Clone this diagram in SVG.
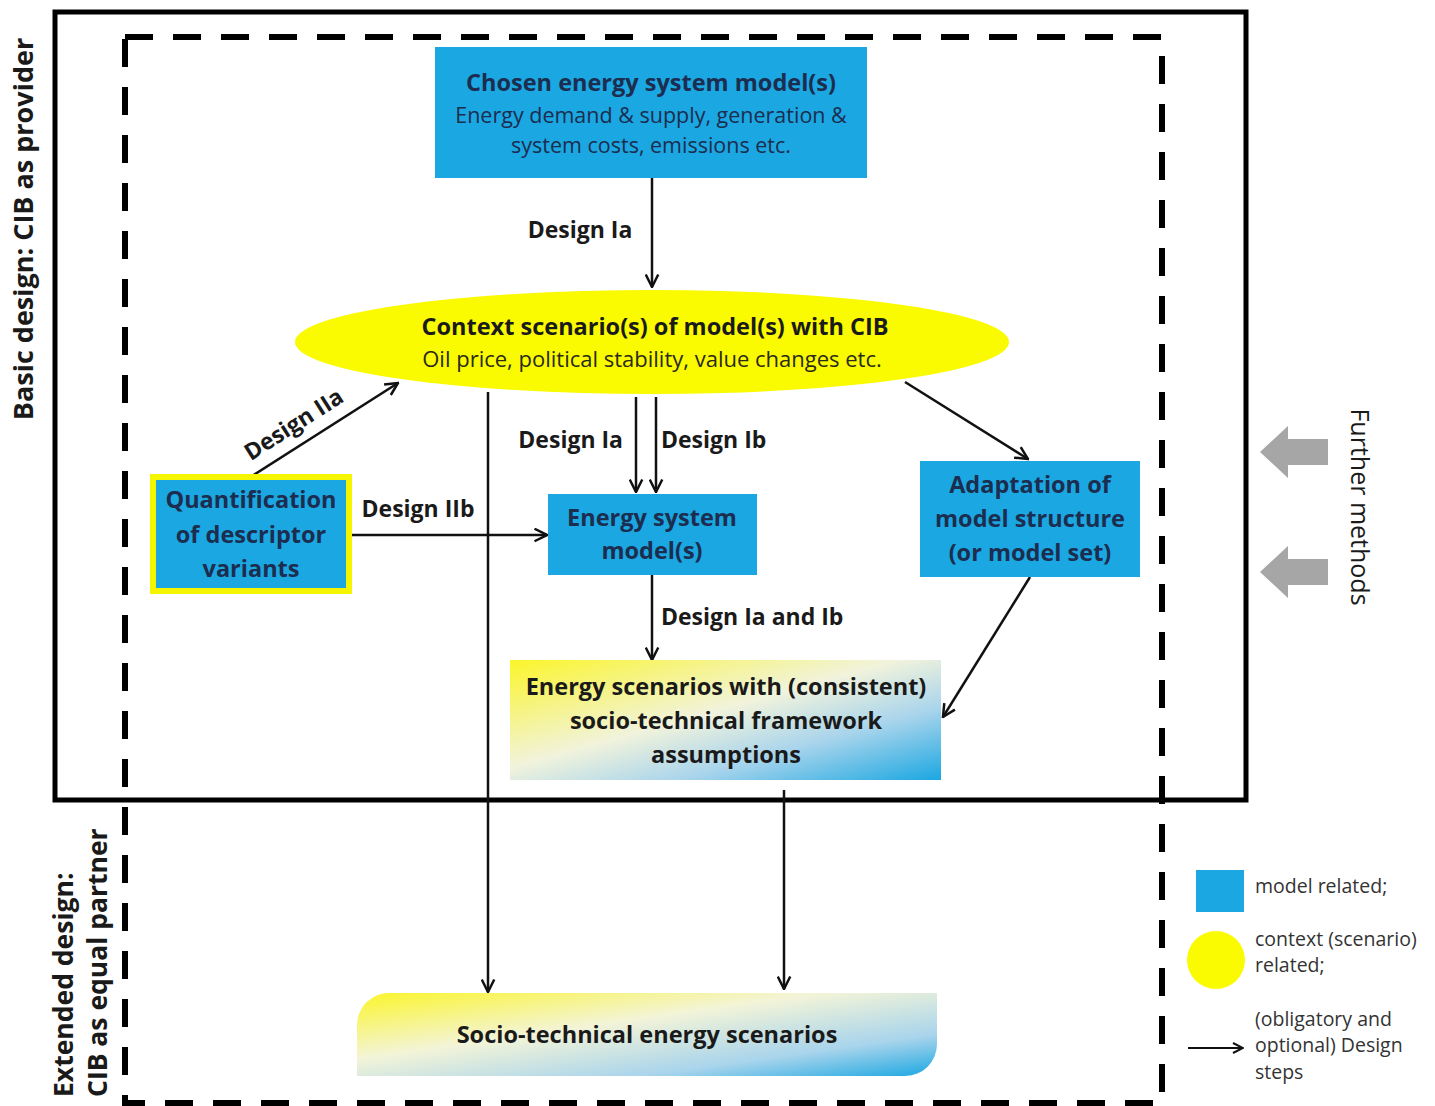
<svg xmlns="http://www.w3.org/2000/svg" width="1435" height="1106" viewBox="0 0 1435 1106">
<style>
text{font-family:"Open Sans","Liberation Sans",sans-serif;}
.b{font-weight:bold;}
.navy{fill:#1c2d4f;}
.dark{fill:#1a1a1a;}
.t{font-weight:bold;font-size:23.5px;text-anchor:middle;}
.lbl{font-weight:bold;font-size:23px;fill:#1a1a1a;}
.blue{fill:#1ba7e1;}
.conn{stroke:#111;stroke-width:2.5;fill:none;marker-end:url(#ah);}
.leg{font-size:19.5px;fill:#333;}
</style>
<defs>
<marker id="ah" viewBox="0 0 12 12" refX="11" refY="6" markerWidth="6" markerHeight="6" markerUnits="strokeWidth" orient="auto">
<path d="M1,1 L11,6 L1,11" fill="none" stroke="#111" stroke-width="2"/>
</marker>
<linearGradient id="g1" x1="0" y1="0" x2="1" y2="1">
<stop offset="0" stop-color="#fbf52a"/>
<stop offset="0.45" stop-color="#f1f3dc"/>
<stop offset="0.7" stop-color="#a8d4ec"/>
<stop offset="1" stop-color="#1ba7e1"/>
</linearGradient>
<linearGradient id="g2" x1="0" y1="0" x2="1" y2="1">
<stop offset="0" stop-color="#fbf52a"/>
<stop offset="0.4" stop-color="#f3f4d8"/>
<stop offset="0.75" stop-color="#a8d4ec"/>
<stop offset="1" stop-color="#1ba7e1"/>
</linearGradient>
</defs>
<rect width="1435" height="1106" fill="#fff"/>

<g id="frames">
<rect x="55" y="12" width="1191" height="788" fill="none" stroke="#000" stroke-width="5"/>
<rect x="125" y="37" width="1037" height="1066" fill="none" stroke="#000" stroke-width="6" stroke-dasharray="28 20"/>
</g>

<g id="side-labels">
<text class="b" font-size="27" fill="#1a1a1a" text-anchor="middle" transform="translate(33,229) rotate(-90)">Basic design: CIB as provider</text>
<text class="b" font-size="26.5" fill="#1a1a1a" transform="translate(73,1097) rotate(-90)">Extended design:</text>
<text class="b" font-size="26.5" fill="#1a1a1a" transform="translate(107,1097) rotate(-90)">CIB as equal partner</text>
<text font-size="25" fill="#1a1a1a" text-anchor="middle" transform="translate(1351,507) rotate(90)">Further methods</text>
</g>

<g id="further-arrows" fill="#a6a6a6">
<path d="M1260,452 L1288,426 L1288,439 L1328,439 L1328,465 L1288,465 L1288,478 Z"/>
<path d="M1260,572 L1288,546 L1288,559 L1328,559 L1328,585 L1288,585 L1288,598 Z"/>
</g>

<g id="connectors">
<line class="conn" x1="652" y1="178" x2="652" y2="287"/>
<line class="conn" x1="252" y1="476" x2="398" y2="383"/>
<line class="conn" x1="352" y1="535" x2="547" y2="535"/>
<line class="conn" x1="488" y1="392" x2="488" y2="992"/>
<line class="conn" x1="636" y1="397" x2="636" y2="492"/>
<line class="conn" x1="656" y1="397" x2="656" y2="492"/>
<line class="conn" x1="652" y1="575" x2="652" y2="660"/>
<line class="conn" x1="905" y1="382" x2="1028" y2="459"/>
<line class="conn" x1="1030" y1="577" x2="943" y2="717"/>
<line class="conn" x1="784" y1="790" x2="784" y2="989"/>
<text class="lbl" x="580" y="238" text-anchor="middle">Design Ia</text>
<text class="lbl" text-anchor="middle" transform="translate(298,431) rotate(-32.5)">Design IIa</text>
<text class="lbl" x="418" y="517" text-anchor="middle">Design IIb</text>
<text class="lbl" x="623" y="448" text-anchor="end">Design Ia</text>
<text class="lbl" x="661" y="448">Design Ib</text>
<text class="lbl" x="661" y="625">Design Ia and Ib</text>
</g>

<g id="chosen-model">
<rect class="blue" x="435" y="47" width="432" height="131"/>
<text class="t navy" x="651" y="91">Chosen energy system model(s)</text>
<text class="navy" x="651" y="123" font-size="21.5" text-anchor="middle">Energy demand &amp; supply, generation &amp;</text>
<text class="navy" x="651" y="153" font-size="21.5" text-anchor="middle">system costs, emissions etc.</text>
</g>

<g id="context-scenarios">
<ellipse cx="652" cy="342" rx="357" ry="52" fill="#fafa00"/>
<text class="t dark" x="655" y="335">Context scenario(s) of model(s) with CIB</text>
<text x="652" y="367" font-size="22" text-anchor="middle" fill="#2a2a1a">Oil price, political stability,  value changes etc.</text>
</g>

<g id="quantification">
<rect x="150" y="474" width="202" height="120" fill="#f5f500"/>
<rect class="blue" x="156" y="480" width="190" height="108"/>
<text class="t navy" x="251" y="508">Quantification</text>
<text class="t navy" x="251" y="543">of descriptor</text>
<text class="t navy" x="251" y="577">variants</text>
</g>

<g id="energy-system-model">
<rect class="blue" x="548" y="494" width="209" height="81"/>
<text class="t navy" x="652" y="526">Energy system</text>
<text class="t navy" x="652" y="559">model(s)</text>
</g>

<g id="adaptation">
<rect class="blue" x="920" y="461" width="220" height="116"/>
<text class="t navy" x="1030" y="493">Adaptation of</text>
<text class="t navy" x="1030" y="527">model structure</text>
<text class="t navy" x="1030" y="561">(or model set)</text>
</g>

<g id="energy-scenarios">
<rect x="510" y="660" width="431" height="120" fill="url(#g1)"/>
<text class="t dark" x="726" y="695">Energy scenarios with (consistent)</text>
<text class="t dark" x="726" y="729">socio-technical framework</text>
<text class="t dark" x="726" y="763">assumptions</text>
</g>

<g id="socio-technical">
<path d="M389,993 H937 V1044 A32,32 0 0 1 905,1076 H357 V1025 A32,32 0 0 1 389,993 Z" fill="url(#g2)"/>
<text class="t dark" x="647" y="1043">Socio-technical energy scenarios</text>
</g>

<g id="legend">
<rect class="blue" x="1196" y="870" width="48" height="42"/>
<text class="leg" x="1255" y="893">model related;</text>
<circle cx="1216" cy="960" r="29" fill="#fafa00"/>
<text class="leg" x="1255" y="946">context (scenario)</text>
<text class="leg" x="1255" y="972">related;</text>
<line x1="1188" y1="1048" x2="1243" y2="1048" stroke="#111" stroke-width="2" marker-end="url(#ah)"/>
<text class="leg" x="1255" y="1026">(obligatory and</text>
<text class="leg" x="1255" y="1052">optional) Design</text>
<text class="leg" x="1255" y="1079">steps</text>
</g>
</svg>
